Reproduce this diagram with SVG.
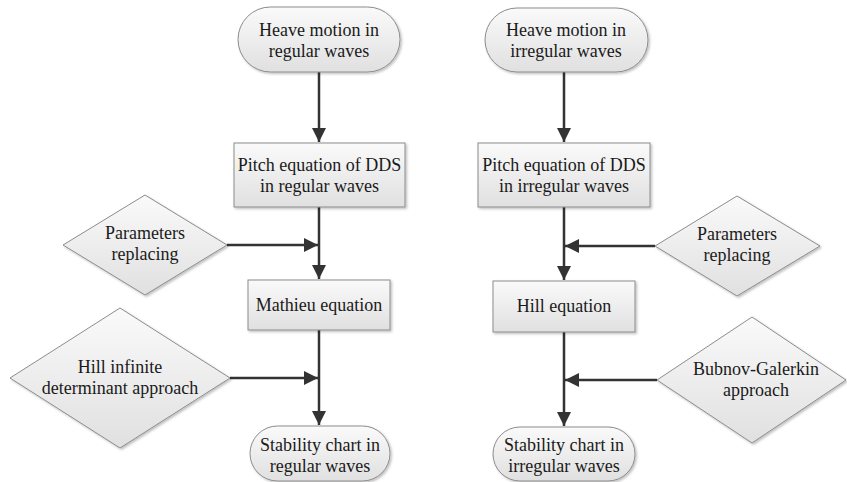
<svg xmlns="http://www.w3.org/2000/svg" width="847" height="482" viewBox="0 0 847 482">
<defs>
<linearGradient id="g" x1="0" y1="0" x2="0" y2="1">
<stop offset="0" stop-color="#fafafa"/>
<stop offset="1" stop-color="#e0e0e0"/>
</linearGradient>
<filter id="sh" x="-10%" y="-10%" width="125%" height="130%">
<feDropShadow dx="1.5" dy="1.5" stdDeviation="1" flood-color="#000" flood-opacity="0.25"/>
</filter>
<marker id="ah" markerWidth="14" markerHeight="14" refX="14" refY="7" orient="auto" markerUnits="userSpaceOnUse" viewBox="0 0 14 14">
<path d="M0,0 L14,7 L0,14 z" fill="#333"/>
</marker>
</defs>
<style>
.s{fill:url(#g);stroke:#8c8c8c;stroke-width:1;filter:url(#sh)}
.t{font-family:"Liberation Serif","Times New Roman",serif;font-size:18px;fill:#1a1a1a;text-anchor:middle}
.c{stroke:#333;stroke-width:2.5;fill:none;marker-end:url(#ah)}
</style>
<rect width="847" height="482" fill="#fff"/>
<g id="connectors">
<line class="c" x1="319" y1="72" x2="319" y2="142"/>
<line class="c" x1="319" y1="207" x2="319" y2="279"/>
<line class="c" x1="227" y1="245" x2="318" y2="245"/>
<line class="c" x1="319" y1="330" x2="319" y2="425"/>
<line class="c" x1="230" y1="378" x2="318" y2="378"/>
<line class="c" x1="564" y1="72" x2="564" y2="142"/>
<line class="c" x1="564" y1="207" x2="564" y2="280"/>
<line class="c" x1="655" y1="246" x2="565" y2="246"/>
<line class="c" x1="564" y1="332" x2="564" y2="426"/>
<line class="c" x1="657" y1="380" x2="565" y2="380"/>
</g>
<g id="heave-regular">
<rect class="s" x="238" y="7" width="162" height="65" rx="32.5"/>
<text class="t" x="319" y="36">Heave motion in</text>
<text class="t" x="319" y="57">regular waves</text>
</g>
<g id="pitch-regular">
<rect class="s" x="234" y="143" width="171" height="64"/>
<text class="t" x="319.5" y="171">Pitch equation of DDS</text>
<text class="t" x="319.5" y="192">in regular waves</text>
</g>
<g id="params-left">
<polygon class="s" points="63,245 145,195 227,245 145,295"/>
<text class="t" x="145" y="239">Parameters</text>
<text class="t" x="145" y="260">replacing</text>
</g>
<g id="mathieu">
<rect class="s" x="248" y="280" width="142" height="50"/>
<text class="t" x="319" y="311">Mathieu equation</text>
</g>
<g id="hill-infinite">
<polygon class="s" points="10,378 120,308 230,378 120,448"/>
<text class="t" x="120" y="373">Hill infinite</text>
<text class="t" x="120" y="394">determinant approach</text>
</g>
<g id="stability-regular">
<rect class="s" x="250" y="426" width="140" height="55" rx="27.5"/>
<text class="t" x="320" y="451">Stability chart in</text>
<text class="t" x="320" y="472">regular waves</text>
</g>
<g id="heave-irregular">
<rect class="s" x="485" y="8" width="163" height="64" rx="32"/>
<text class="t" x="566" y="36">Heave motion in</text>
<text class="t" x="566" y="57">irregular waves</text>
</g>
<g id="pitch-irregular">
<rect class="s" x="478" y="143" width="172" height="64"/>
<text class="t" x="564" y="171">Pitch equation of DDS</text>
<text class="t" x="564" y="192">in irregular waves</text>
</g>
<g id="params-right">
<polygon class="s" points="655,246 737,196 820,246 737,296"/>
<text class="t" x="737" y="240">Parameters</text>
<text class="t" x="737" y="261">replacing</text>
</g>
<g id="hill-equation">
<rect class="s" x="493" y="281" width="142" height="51"/>
<text class="t" x="564" y="312">Hill equation</text>
</g>
<g id="bubnov">
<polygon class="s" points="657,380 752,317 846,380 752,443"/>
<text class="t" x="756" y="375">Bubnov-Galerkin</text>
<text class="t" x="756" y="396">approach</text>
</g>
<g id="stability-irregular">
<rect class="s" x="493" y="427" width="142" height="54" rx="27"/>
<text class="t" x="564" y="451">Stability chart in</text>
<text class="t" x="564" y="472">irregular waves</text>
</g>
</svg>
